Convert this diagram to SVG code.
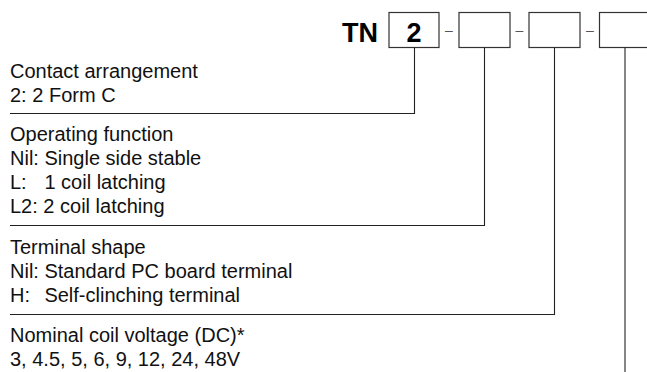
<svg xmlns="http://www.w3.org/2000/svg" width="647" height="372" viewBox="0 0 647 372">
<style>
.t{font-family:"Liberation Sans",Arial,Helvetica,sans-serif;font-size:20px;fill:#111}
.b{font-family:"Liberation Sans",Arial,Helvetica,sans-serif;font-size:27px;font-weight:bold;fill:#000}
.d{font-family:"Liberation Sans",Arial,Helvetica,sans-serif;font-size:14px;fill:#555}
.box{fill:#fff;stroke:#333;stroke-width:1.2}
.ln{fill:none;stroke:#222;stroke-width:1.1}
</style>
<rect width="647" height="372" fill="#fff"/>
<g id="code">
<text class="b" x="342" y="41.7">TN</text>
</g>
<g id="box1">
<rect class="box" x="389" y="12.5" width="50" height="35"/>
<text class="b" x="414" y="41.7" text-anchor="middle">2</text>
</g>
<text class="d" x="449" y="35" text-anchor="middle">–</text>
<g id="box2">
<rect class="box" x="459" y="12.5" width="51" height="35"/>
</g>
<text class="d" x="519.5" y="35" text-anchor="middle">–</text>
<g id="box3">
<rect class="box" x="529" y="12.5" width="51" height="35"/>
</g>
<text class="d" x="590" y="35" text-anchor="middle">–</text>
<g id="box4">
<rect class="box" x="599.5" y="12.5" width="51" height="35"/>
</g>
<g id="connectors">
<polyline class="ln" points="414.5,47.5 414.5,113.5 10,113.5"/>
<polyline class="ln" points="484.5,47.5 484.5,225.5 10,225.5"/>
<polyline class="ln" points="554.5,47.5 554.5,314.5 10,314.5"/>
<polyline class="ln" points="625,47.5 625,372"/>
</g>
<g id="contact">
<text class="t" x="10" y="77.5">Contact arrangement</text>
<text class="t" x="10" y="101.5">2: 2 Form C</text>
</g>
<g id="operating">
<text class="t" x="10" y="141">Operating function</text>
<text class="t" x="10" y="165">Nil: Single side stable</text>
<text class="t" x="10" y="189">L:<tspan x="44.4">1 coil latching</tspan></text>
<text class="t" x="10" y="213">L2: 2 coil latching</text>
</g>
<g id="terminal">
<text class="t" x="10" y="253.5">Terminal shape</text>
<text class="t" x="10" y="277.5">Nil: Standard PC board terminal</text>
<text class="t" x="10" y="301.5">H:<tspan x="44.4">Self-clinching terminal</tspan></text>
</g>
<g id="voltage">
<text class="t" x="10" y="341.7">Nominal coil voltage (DC)*</text>
<text class="t" x="10" y="365.7">3, 4.5, 5, 6, 9, 12, 24, 48V</text>
</g>
</svg>
